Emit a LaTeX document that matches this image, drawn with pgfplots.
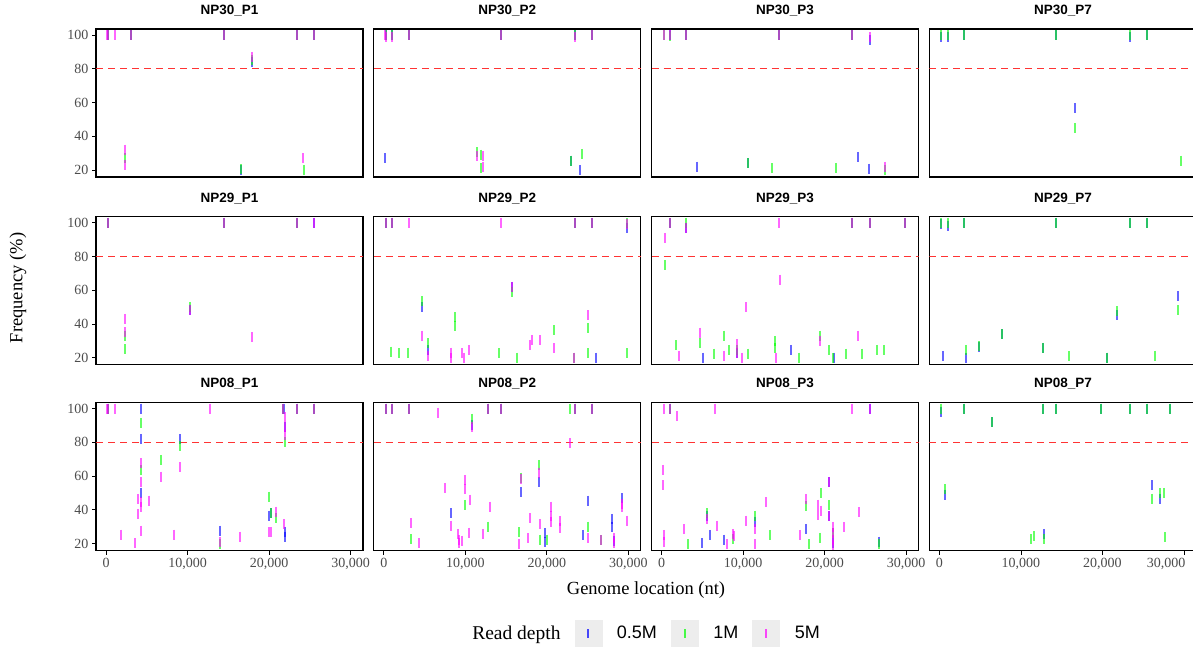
\documentclass[border=0pt]{standalone}
\usepackage{fontspec}
\setmainfont{Liberation Serif}
\setsansfont{Liberation Sans}
\usepackage{pgfplots}
\pgfplotsset{compat=1.18}
\definecolor{tickgray}{rgb}{0.30,0.30,0.30}
\definecolor{hred}{rgb}{1,0.2,0.2}
\definecolor{keygray}{rgb}{0.93,0.93,0.93}
\definecolor{cblue}{rgb}{0,0,1}
\definecolor{cgreen}{rgb}{0,1,0}
\definecolor{cmag}{rgb}{1,0,1}
\pgfplotsset{
 panel/.style={
  scale only axis, width=267pt, height=148pt,
  xmin=-1230, xmax=31530, ymin=15.8, ymax=103.6,
  xtick={0,10000,20000,30000}, ytick={20,40,60,80,100},
  scaled x ticks=false, scaled y ticks=false,
  axis line style={black, line width=1.1pt},
  tick pos=left, tick align=outside, major tick length=4pt,
  tick style={black, line width=0.8pt},
  /pgf/number format/assume math mode=true,
  /pgf/number format/1000 sep={,},
  tick label style={font=\fontsize{14}{16}\selectfont, text=tickgray},
  title style={font=\bfseries\sffamily\fontsize{13.5}{15}\selectfont, at={(0.5,1)}, anchor=base, yshift=8.7pt},
  clip=true,
 },
 hidex/.style={xticklabels={}, xtick style={draw=none}},
 hidey/.style={yticklabels={}, ytick style={draw=none}},
 hline/.style={draw=hred, line width=1.4pt, dash pattern=on 7pt off 5pt, forget plot},
 sb/.style={only marks, mark=|, mark size=5pt, color=cblue, mark options={line width=2pt, draw opacity=0.6},
   legend image code/.code={\fill[keygray] (0pt,-13pt) rectangle (27pt,13pt); \draw[cblue, line width=2pt, opacity=0.7] (13.5pt,-4.5pt) -- (13.5pt,4.5pt);}},
 sg/.style={only marks, mark=|, mark size=5pt, color=cgreen, mark options={line width=2pt, draw opacity=0.6},
   legend image code/.code={\fill[keygray] (0pt,-13pt) rectangle (27pt,13pt); \draw[cgreen, line width=2pt, opacity=0.7] (13.5pt,-4.5pt) -- (13.5pt,4.5pt);}},
 sm/.style={only marks, mark=|, mark size=5pt, color=cmag, mark options={line width=2pt, draw opacity=0.6},
   legend image code/.code={\fill[keygray] (0pt,-13pt) rectangle (27pt,13pt); \draw[cmag, line width=2pt, opacity=0.7] (13.5pt,-4.5pt) -- (13.5pt,4.5pt);}},
}
\begin{document}
\begin{tikzpicture}
\path[use as bounding box] (0pt,0pt) rectangle (1193pt,-647pt);
% ---------------- Row 1: NP30 ----------------
\begin{axis}[panel, hidex, at={(96pt,-29pt)}, anchor=north west, title={NP30\_P1}]
\addplot[hline] coordinates {(-1230,80) (31530,80)};
\addplot[sb] coordinates {(286,100)(3068,100)(14479,100)(23477,100)(25563,100)(17955,84)(16605,20)};
\addplot[sg] coordinates {(286,100)(3068,100)(14479,100)(23477,100)(25563,100)(2290,27)(16605,20.5)(24336,20)(17955,85)};
\addplot[sm] coordinates {(150,100)(286,100)(1104,100)(3068,100)(14479,100)(23477,100)(25563,100)(17955,87)(2290,32)(2290,23)(24131,27)};
\end{axis}
\begin{axis}[panel, hidex, hidey, at={(373.8pt,-29pt)}, anchor=north west, title={NP30\_P2}]
\addplot[hline] coordinates {(-1230,80) (31530,80)};
\addplot[sb] coordinates {(286,100)(1063,100)(3027,100)(14397,100)(23395,100)(25563,100)(123,27)(22986,25.5)(24049,20)};
\addplot[sg] coordinates {(286,100)(1063,100)(3027,100)(14397,100)(23395,100)(25563,100)(11452,30.5)(11861,29)(11861,21)(22986,25.5)(24254,29.5)};
\addplot[sm] coordinates {(200,100)(286,99)(1063,99)(3027,100)(14397,100)(23395,99)(25563,100)(11452,28)(12147,28)(12147,22)};
\end{axis}
\begin{axis}[panel, hidex, hidey, at={(651.6pt,-29pt)}, anchor=north west, title={NP30\_P3}]
\addplot[hline] coordinates {(-1230,80) (31530,80)};
\addplot[sb] coordinates {(1063,100)(3027,100)(14397,100)(23395,100)(25563,97)(4295,22)(10634,24)(24049,27.7)(25440,20.8)};
\addplot[sg] coordinates {(245,100)(1063,99.5)(3027,100)(14397,100)(23395,100)(10634,24)(13497,21)(21350,21.2)(27362,20)};
\addplot[sm] coordinates {(245,100)(1063,100)(3027,100)(14397,100)(23395,100)(25563,99)(27362,22)};
\end{axis}
\begin{axis}[panel, hidex, hidey, at={(929.4pt,-29pt)}, anchor=north west, title={NP30\_P7}]
\addplot[hline] coordinates {(-1230,80) (31530,80)};
\addplot[sb] coordinates {(205,99)(1022,99)(2986,100)(14356,100)(23354,99)(25521,100)(16605,56.7)};
\addplot[sg] coordinates {(205,100)(1022,100)(2986,100)(14356,100)(23354,100)(25521,100)(16605,45)(29653,25.5)};
\end{axis}
% ---------------- Row 2: NP29 ----------------
\begin{axis}[panel, hidex, at={(96pt,-216.7pt)}, anchor=north west, title={NP29\_P1}]
\addplot[hline] coordinates {(-1230,80) (31530,80)};
\addplot[sb] coordinates {(286,100)(14479,100)(23477,100)(25563,100)(10307,48)};
\addplot[sg] coordinates {(286,100)(14479,100)(23477,100)(10307,50)(2290,25)(2290,33)};
\addplot[sm] coordinates {(286,100)(14479,100)(23477,100)(25563,100)(2290,43)(2290,35)(10307,48)(17955,32)};
\end{axis}
\begin{axis}[panel, hidex, hidey, at={(373.8pt,-216.7pt)}, anchor=north west, title={NP29\_P2}]
\addplot[hline] coordinates {(-1230,80) (31530,80)};
\addplot[sb] coordinates {(286,100)(1063,100)(23395,100)(25563,100)(29857,97)(15706,62)(4704,49.8)(5399,24.4)(26012,20)};
\addplot[sg] coordinates {(286,100)(1063,100)(23395,100)(25563,100)(29857,100)(15706,59)(4704,53.4)(8712,44)(8712,39)(5399,28.4)(859,23.6)(1841,22.6)(2945,23)(14070,22.6)(16360,20)(20900,36.1)(23272,20)(25072,37.5)(25072,22.6)(29775,22.6)};
\addplot[sm] coordinates {(286,100)(1063,100)(3027,100)(14397,100)(23395,100)(25563,100)(29857,99)(15706,62)(4704,33.1)(5399,21)(8262,23)(8262,19.5)(9652,22.6)(9816,20)(10430,24.6)(18119,30.6)(17873,27.6)(19141,30.2)(20900,25.6)(23272,20)(25072,45)};
\end{axis}
\begin{axis}[panel, hidex, hidey, at={(651.6pt,-216.7pt)}, anchor=north west, title={NP29\_P3}]
\addplot[hline] coordinates {(-1230,80) (31530,80)};
\addplot[sb] coordinates {(1063,100)(3027,97)(23395,100)(25563,100)(29898,100)(5072,20)(15910,24.6)(21104,20)(9243,23)};
\addplot[sg] coordinates {(1063,100)(3027,100)(23395,100)(25563,100)(29898,100)(409,74.8)(4704,28.6)(7607,33.1)(1800,27.2)(6462,22.4)(8262,24.6)(9243,24.6)(10552,22.4)(13906,30)(13906,25.6)(16810,20)(19428,33.1)(20491,24.6)(20982,20)(22659,22.4)(24581,22.4)(26462,24.6)(27280,24.6)};
\addplot[sm] coordinates {(1063,100)(3027,97)(14397,100)(23395,100)(25563,100)(29898,100)(409,91)(14560,66.3)(10389,49.8)(4704,34.9)(2086,21.2)(7607,21.2)(9243,28)(9243,23)(9816,20)(14070,20)(19428,30)(24131,33.1)};
\end{axis}
\begin{axis}[panel, hidex, hidey, at={(929.4pt,-216.7pt)}, anchor=north west, title={NP29\_P7}]
\addplot[hline] coordinates {(-1230,80) (31530,80)};
\addplot[sb] coordinates {(205,99)(1022,98)(2986,100)(14356,100)(23354,100)(25521,100)(491,21)(3313,19.6)(4826,26.5)(7730,33.9)(12679,25.5)(20573,20)(21841,45)(29325,56.3)};
\addplot[sg] coordinates {(205,100)(1022,100)(2986,100)(14356,100)(23354,100)(25521,100)(3313,24.6)(4826,27)(7730,33.9)(12679,26)(15951,20.8)(20573,20)(21841,47.4)(26462,21.2)(29325,48)};
\end{axis}
% ---------------- Row 3: NP08 ----------------
\begin{axis}[panel, at={(96pt,-402.5pt)}, anchor=north west, title={NP08\_P1},
  legend columns=4,
  legend entries={Read depth, {\sffamily\fontsize{18}{20}\selectfont 0.5M}, {\sffamily\fontsize{18}{20}\selectfont 1M}, {\sffamily\fontsize{18}{20}\selectfont 5M}},
  legend style={at={(2.045,-0.558)}, anchor=center, draw=none, fill=none,
    font=\fontsize{19.5}{21}\selectfont, inner sep=0pt,
    nodes={inner xsep=7pt},
    /tikz/every odd column/.append style={column sep=8pt},
    /tikz/every even column/.append style={column sep=7pt}}]
\addlegendimage{empty legend}
\addplot[sb] coordinates {(286,100)(4335,100)(21718,100)(21882,100)(23477,100)(25563,100)(4335,82)(4335,50)(9080,82)(13947,27.6)(20000,36.5)(20245,38)(21922,27)(21922,24)(22004,89)};
\addplot[sg] coordinates {(286,100)(21718,100)(23477,100)(25563,100)(4335,91.5)(4335,63.3)(6789,69.6)(9080,77.6)(13947,19.5)(20000,47.8)(20245,38)(20900,35)(22004,80)};
\addplot[sm] coordinates {(150,100)(286,100)(1104,100)(12761,100)(21718,100)(23477,100)(25563,100)(4335,67.7)(4335,56.3)(4335,44.4)(4335,41.5)(4335,27.6)(3886,46.4)(3886,37.5)(5276,45.4)(6789,59.7)(9080,65.1)(1881,25.2)(3517,20)(8303,25.2)(13947,21)(16442,24)(20000,26.6)(20204,26.6)(20900,38.9)(21800,31.5)(22004,95)(22004,89)(22004,84.3)};
\addplot[hline] coordinates {(-1230,80) (31530,80)};
\end{axis}
\begin{axis}[panel, hidey, at={(373.8pt,-402.5pt)}, anchor=north west, title={NP08\_P2}]
\addplot[hline] coordinates {(-1230,80) (31530,80)};
\addplot[sb] coordinates {(286,100)(1063,100)(3027,100)(12720,100)(14397,100)(23395,100)(25563,100)(10879,90)(19019,56.3)(16810,50.4)(8262,37.9)(19796,26)(19796,21)(24458,25)(25072,45.4)(28017,34.5)(28017,29.6)(28262,21.6)(29203,46.8)};
\addplot[sg] coordinates {(286,100)(1063,100)(3027,100)(12720,100)(14397,100)(22863,100)(23395,100)(25563,100)(10879,94)(19019,66.3)(16810,59)(9980,42.9)(3354,22.4)(12802,30)(16524,26.6)(19141,22.2)(20000,22.2)(25072,30)(26585,22)};
\addplot[sm] coordinates {(286,100)(1063,100)(3027,100)(6585,97.6)(12720,100)(14397,100)(23395,100)(25563,100)(10879,89)(22863,79.4)(19019,62)(16810,58)(7526,53)(9980,57.7)(9980,52.4)(10552,46)(8262,30.6)(13006,41.9)(3354,32)(4295,20)(9039,25.6)(9284,22)(9284,20)(9571,21.6)(10430,26.4)(12147,25.6)(16524,19.8)(17873,34.9)(17750,23.2)(19141,31.5)(20532,41.9)(20532,36.5)(20532,32.5)(21554,33.1)(21554,29.2)(25072,23.2)(26585,22)(28262,23)(28262,20)(29203,43.5)(29203,41.5)(29816,33.5)};
\end{axis}
\begin{axis}[panel, hidey, at={(651.6pt,-402.5pt)}, anchor=north west, title={NP08\_P3}]
\addplot[hline] coordinates {(-1230,80) (31530,80)};
\addplot[sb] coordinates {(1063,100)(25563,100)(4990,20.2)(5522,36)(5931,25)(7689,22.2)(11411,33)(17710,28.6)(20573,56.3)(20573,36.5)(21064,20)(26708,21)};
\addplot[sg] coordinates {(1063,100)(3190,19.6)(5522,38)(8753,22.6)(11411,36.5)(13252,25)(17710,42.1)(18119,19.6)(19387,23.4)(19510,50)(20573,42.5)(21064,26)(26708,19.6)};
\addplot[sm] coordinates {(245,100)(1063,100)(1922,95.4)(6544,100)(23395,100)(25563,100)(123,63.7)(123,54.4)(245,25)(245,21)(2700,28.6)(5522,34.5)(6830,30.6)(7976,19.6)(8753,25.6)(8917,24.4)(10389,33.5)(11411,28.6)(11493,19.6)(12802,44.4)(16933,25)(17710,46.4)(19141,43)(19141,37)(19510,39.5)(20573,56.3)(20573,36.5)(21064,30)(21064,26)(21064,22)(21064,19)(22331,29.6)(24213,38.5)};
\end{axis}
\begin{axis}[panel, hidey, at={(929.4pt,-402.5pt)}, anchor=north west, title={NP08\_P7},
  xtick={0,10000,20000}, extra x ticks={30000},
  extra x tick style={xticklabel style={anchor=north east, xshift=5pt}}]
\addplot[hline] coordinates {(-1230,80) (31530,80)};
\addplot[sb] coordinates {(205,98)(2986,100)(12679,100)(14356,100)(19796,100)(23354,100)(25521,100)(28303,100)(6503,92)(736,49)(26094,54.4)(27117,46.2)(12802,25.6)};
\addplot[sg] coordinates {(205,100)(2986,100)(12679,100)(14356,100)(19796,100)(23354,100)(25521,100)(28303,100)(6503,92)(736,52.4)(26094,46.6)(27117,50)(27526,50)(11288,22.6)(11616,24.2)(12802,22.6)(27690,23.8)};
\end{axis}
% axis titles
\node[rotate=90, font=\fontsize{18.5}{20}\selectfont] at (18pt,-288pt) {Frequency (\%)};
\node[font=\fontsize{18.5}{20}\selectfont] at (646pt,-590pt) {Genome location (nt)};
\end{tikzpicture}
\end{document}
